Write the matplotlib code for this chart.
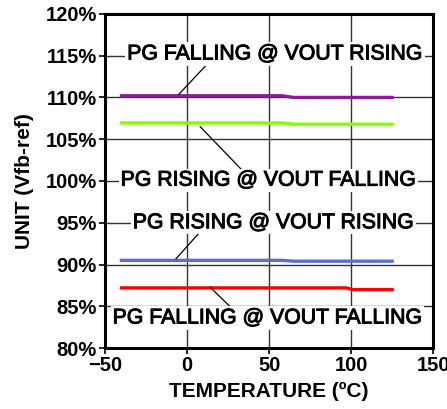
import matplotlib
matplotlib.use('Agg')
import matplotlib.pyplot as plt
import matplotlib.patheffects as pe
import numpy as np

plt.rcParams['font.family'] = ['Liberation Sans', 'DejaVu Sans']

# temperature, degC
temp = np.array([-40, -20, 0, 25, 50, 58, 65, 85, 97, 101, 125])
# percent of Vfb-ref
pg_fall_vout_rise = np.array([110.2, 110.2, 110.2, 110.2, 110.2, 110.2, 110.0, 110.0, 110.0, 110.0, 110.0])
pg_rise_vout_fall = np.array([106.95, 106.95, 106.95, 106.95, 106.95, 106.95, 106.8, 106.8, 106.8, 106.8, 106.8])
pg_rise_vout_rise = np.array([90.5, 90.5, 90.5, 90.5, 90.5, 90.5, 90.4, 90.4, 90.4, 90.4, 90.4])
pg_fall_vout_fall = np.array([87.2, 87.2, 87.2, 87.2, 87.2, 87.2, 87.2, 87.2, 87.2, 87.0, 87.0])

xticks = [-50, 0, 50, 100, 150]
yticks = [80, 85, 90, 95, 100, 105, 110, 115, 120]

fig = plt.figure(figsize=(4.47, 4.09), dpi=100)
ax = fig.add_axes([0.235, 0.149, 0.734, 0.817])

ax.plot(temp, pg_fall_vout_rise, color='#8a1c9a', lw=2.4)
ax.plot(temp, pg_rise_vout_fall, color='#80ff00', lw=2.4)
ax.plot(temp, pg_rise_vout_rise, color='#5a6ed2', lw=2.4)
ax.plot(temp, pg_fall_vout_fall, color='#ff0000', lw=2.4)

ax.set_xlim(-50, 150)
ax.set_ylim(80, 120)
ax.set_xticks(xticks)
ax.set_yticks(yticks)
ax.set_yticklabels(['%d%%' % v for v in yticks])
ax.grid(True, color='#333333', lw=1.0)
ax.set_axisbelow(True)
for s in ax.spines.values():
    s.set_linewidth(2.2)
ax.tick_params(direction='out', length=4, width=1.2, labelsize=14.5, pad=2)
for lab in ax.get_xticklabels() + ax.get_yticklabels():
    lab.set_fontweight('bold')

ax.set_xlabel('TEMPERATURE (ºC)', fontsize=15, fontweight='bold', labelpad=5)
ax.set_ylabel('UNIT (Vfb-ref)', fontsize=15, fontweight='bold', labelpad=8)

labels = [
    ('PG FALLING @ VOUT RISING', 53.5, 115.2, (12.8, 114.1), (-4.9, 110.4)),
    ('PG RISING @ VOUT FALLING', 49.5, 100.1, (8.0, 106.5), (34.0, 101.2)),
    ('PG RISING @ VOUT RISING', 52.5, 95.0, (7.9, 93.9), (-6.7, 90.7)),
    ('PG FALLING @ VOUT FALLING', 49.0, 83.6, (14.0, 87.3), (26.0, 85.0)),
]
for txt, x, y, p0, p1 in labels:
    ax.plot([p0[0], p1[0]], [p0[1], p1[1]], color='black', lw=0.9, zorder=3)
    t = ax.text(x, y, txt, ha='center', va='center', fontsize=15.3,
                bbox=dict(facecolor='white', edgecolor='none', pad=1.5), zorder=4)
    t.set_path_effects([pe.withStroke(linewidth=0.7, foreground='black')])

fig.savefig('out.png', dpi=100)
